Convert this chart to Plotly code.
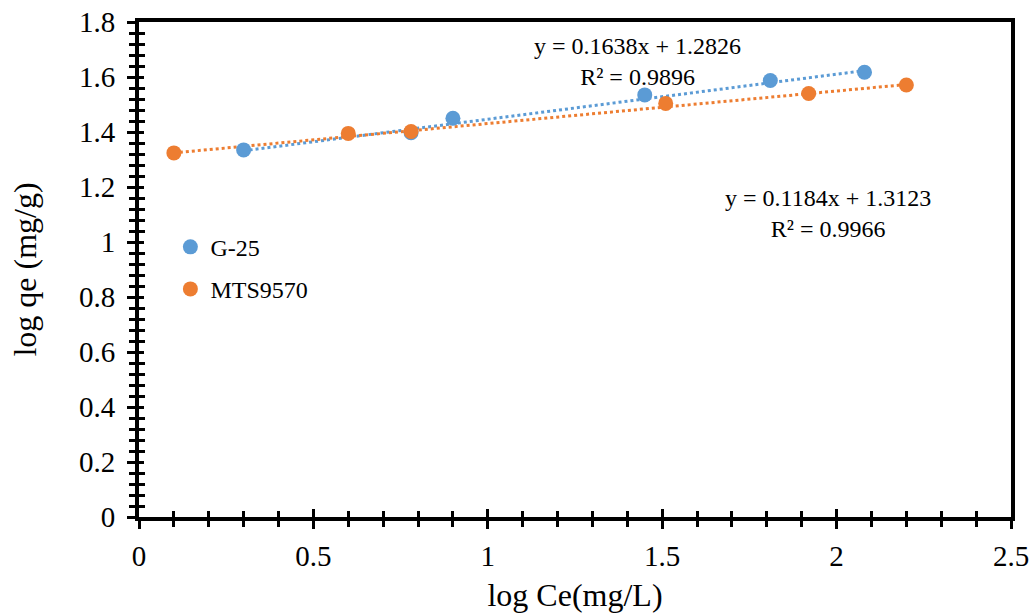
import numpy as np
import plotly.graph_objects as go

# Freundlich isotherm, linearised: log qe vs log Ce
g25_logce = [0.30, 0.78, 0.90, 1.45, 1.81, 2.08]
g25_logqe = [1.335, 1.397, 1.450, 1.535, 1.587, 1.617]

mts_logce = [0.10, 0.60, 0.78, 1.51, 1.92, 2.20]
mts_logqe = [1.324, 1.395, 1.402, 1.504, 1.540, 1.571]

# Linear fit results shown on the chart
g25_slope, g25_icpt, g25_r2 = 0.1638, 1.2826, 0.9896
mts_slope, mts_icpt, mts_r2 = 0.1184, 1.3123, 0.9966

BLUE = "#5B9BD5"
ORANGE = "#ED7D31"
FONT = "Liberation Serif"

fig = go.Figure()


def trend(xs, slope, icpt):
    xx = np.array([min(xs), max(xs)])
    return xx, slope * xx + icpt


for xs, slope, icpt, col in [
    (g25_logce, g25_slope, g25_icpt, BLUE),
    (mts_logce, mts_slope, mts_icpt, ORANGE),
]:
    tx, ty = trend(xs, slope, icpt)
    fig.add_trace(go.Scatter(x=tx, y=ty, mode="lines", showlegend=False,
                             line=dict(color=col, width=3, dash="dot"),
                             hoverinfo="skip"))

fig.add_trace(go.Scatter(x=g25_logce, y=g25_logqe, mode="markers", name="G-25",
                         marker=dict(color=BLUE, size=15), legend="legend"))
fig.add_trace(go.Scatter(x=mts_logce, y=mts_logqe, mode="markers", name="MTS9570",
                         marker=dict(color=ORANGE, size=15), legend="legend2"))

# companion axes carrying the inward half of the crossing tick marks
fig.add_trace(go.Scatter(x=[], y=[], xaxis="x2", yaxis="y2", showlegend=False,
                         hoverinfo="skip"))

XR = [0, 2.5]
YR = [0, 1.8]

fig.update_layout(
    width=1036, height=615,
    margin=dict(l=139, r=25, t=22, b=98),
    paper_bgcolor="white", plot_bgcolor="white",
    font=dict(family=FONT, color="black", size=24),
    xaxis=dict(range=XR, dtick=0.5, tick0=0, showgrid=False, zeroline=False,
               automargin=False,
               showline=True, linecolor="black", linewidth=4, mirror=True,
               ticks="outside", ticklen=8, tickwidth=3, tickcolor="black",
               minor=dict(ticks="outside", dtick=0.1, ticklen=6, tickwidth=3,
                          tickcolor="black", showgrid=False),
               tickfont=dict(size=29), ticklabelstandoff=2,
               title=dict(text="log Ce(mg/L)", font=dict(size=32), standoff=14)),
    yaxis=dict(range=YR, dtick=0.2, tick0=0, showgrid=False, zeroline=False,
               automargin=False,
               showline=True, linecolor="black", linewidth=4, mirror=True,
               ticks="outside", ticklen=8, tickwidth=3, tickcolor="black",
               minor=dict(ticks="outside", dtick=0.04, ticklen=6, tickwidth=3,
                          tickcolor="black", showgrid=False),
               tickfont=dict(size=29), ticklabelstandoff=6,
               title=dict(text="log qe (mg/g)", font=dict(size=32), standoff=34)),
    xaxis2=dict(range=XR, overlaying="x", anchor="y2", dtick=0.5, tick0=0,
                automargin=False,
                showgrid=False, zeroline=False, showline=False,
                showticklabels=False, ticks="inside", ticklen=8, tickwidth=3,
                tickcolor="black",
                minor=dict(ticks="inside", dtick=0.1, ticklen=6, tickwidth=3,
                           tickcolor="black", showgrid=False)),
    yaxis2=dict(range=YR, overlaying="y", anchor="x2", dtick=0.2, tick0=0,
                automargin=False,
                showgrid=False, zeroline=False, showline=False,
                showticklabels=False, ticks="inside", ticklen=5, tickwidth=3,
                tickcolor="black",
                minor=dict(ticks="inside", dtick=0.04, ticklen=6, tickwidth=3,
                           tickcolor="black", showgrid=False)),
    legend=dict(x=0.036, y=0.545, xanchor="left", yanchor="middle",
                bgcolor="rgba(0,0,0,0)", font=dict(size=24),
                itemwidth=30),
    legend2=dict(x=0.036, y=0.46, xanchor="left", yanchor="middle",
                 bgcolor="rgba(0,0,0,0)", font=dict(size=24),
                 itemwidth=30),
)

fig.add_annotation(x=1.428, y=1.655, xref="x", yref="y", showarrow=False,
                   text=f"y = {g25_slope}x + {g25_icpt}<br>R² = {g25_r2}",
                   font=dict(size=24), align="center")
fig.add_annotation(x=1.975, y=1.103, xref="x", yref="y", showarrow=False,
                   text=f"y = {mts_slope}x + {mts_icpt}<br>R² = {mts_r2}",
                   font=dict(size=24), align="center")

fig.write_html("out.html")
